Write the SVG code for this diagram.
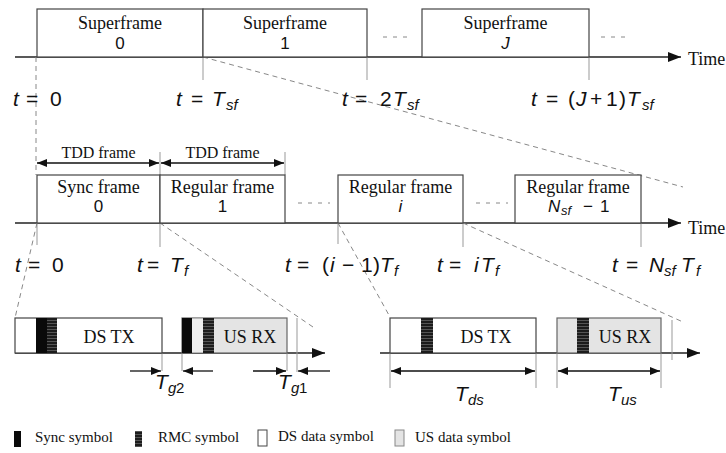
<svg xmlns="http://www.w3.org/2000/svg" width="726" height="453" viewBox="0 0 726 453">
<defs>
<style>
.bg{fill:#fff}
.box{fill:#fff;stroke:#444;stroke-width:1.2}
.us{fill:#e4e4e4;stroke:#666;stroke-width:1.2}
.sync{fill:#0a0a0a}
.rmc{fill:url(#rmcp)}
.ax{stroke:#222;stroke-width:1.3;fill:none}
.tick{stroke:#999;stroke-width:1;fill:none}
.dash{stroke:#888;stroke-width:1;stroke-dasharray:5,4;fill:none}
.dots{stroke:#888;stroke-width:1;stroke-dasharray:4,6;fill:none}
.arr{stroke:#111;stroke-width:1.3;fill:none}
.serif{font-family:"Liberation Serif","Times New Roman",serif;fill:#111}
.lbl{font-size:18px}
.tdd{font-size:16px}
.leg{font-size:15px}
.sans{font-family:"Liberation Sans",Arial,sans-serif;fill:#111}
.num{font-size:17px}
.m{font-size:21px}
.i{font-style:italic}
.sub{font-size:15px;font-style:italic}
</style>
<pattern id="rmcp" width="4" height="3" patternUnits="userSpaceOnUse">
<rect width="4" height="3" fill="#1c1c1c"/>
<rect y="2" width="4" height="1" fill="#555"/>
</pattern>
<marker id="ah" viewBox="0 0 10 8" refX="10" refY="4" markerWidth="10" markerHeight="8" markerUnits="userSpaceOnUse" orient="auto-start-reverse">
<path d="M0,0 L10,4 L0,8 z" fill="#111"/>
</marker>
<marker id="axh" viewBox="0 0 13 10" refX="13" refY="5" markerWidth="13" markerHeight="10" markerUnits="userSpaceOnUse" orient="auto">
<path d="M0,0 L13,5 L0,10 z" fill="#111"/>
</marker>
</defs>
<rect class="bg" width="726" height="453"/>

<g id="connectors">
<line class="ax" x1="15" y1="57" x2="681" y2="57" marker-end="url(#axh)"/>
<line class="ax" x1="15" y1="223" x2="681" y2="223" marker-end="url(#axh)"/>
<line class="ax" x1="15" y1="353" x2="325" y2="353" marker-end="url(#axh)"/>
<line class="ax" x1="380" y1="353" x2="700" y2="353" marker-end="url(#axh)"/>
<line class="tick" x1="203" y1="57" x2="203" y2="80"/>
<line class="tick" x1="367" y1="57" x2="367" y2="80"/>
<line class="tick" x1="589" y1="57" x2="589" y2="80"/>
<line class="dots" x1="383" y1="37" x2="413" y2="37"/>
<line class="dots" x1="601" y1="37" x2="631" y2="37"/>
<line class="dash" x1="36" y1="57" x2="36" y2="175"/>
<line class="dash" x1="203" y1="57" x2="683" y2="187"/>
<line class="tick" x1="160" y1="152" x2="160" y2="175"/>
<line class="tick" x1="285" y1="152" x2="285" y2="175"/>
<line class="arr" x1="37" y1="163" x2="159" y2="163" marker-start="url(#ah)" marker-end="url(#ah)"/>
<line class="arr" x1="161" y1="163" x2="284" y2="163" marker-start="url(#ah)" marker-end="url(#ah)"/>
<line class="tick" x1="37" y1="223" x2="37" y2="245"/>
<line class="tick" x1="160" y1="223" x2="160" y2="247"/>
<line class="tick" x1="338" y1="223" x2="338" y2="244"/>
<line class="tick" x1="463" y1="223" x2="463" y2="247"/>
<line class="tick" x1="641" y1="223" x2="641" y2="247"/>
<line class="dots" x1="298" y1="203" x2="330" y2="203"/>
<line class="dots" x1="476" y1="203" x2="508" y2="203"/>
<line class="dash" x1="37" y1="223" x2="15" y2="318"/>
<line class="dash" x1="160" y1="223" x2="313" y2="327"/>
<line class="dash" x1="338" y1="223" x2="390" y2="317"/>
<line class="dash" x1="463" y1="223" x2="683" y2="322"/>
<line class="tick" x1="162" y1="353" x2="162" y2="371"/>
<line class="tick" x1="182" y1="353" x2="182" y2="371"/>
<line class="tick" x1="287" y1="353" x2="287" y2="371"/>
<line class="tick" x1="297" y1="318" x2="297" y2="372"/>
<line class="arr" x1="130" y1="371" x2="161" y2="371" marker-end="url(#ah)"/>
<line class="arr" x1="213" y1="371" x2="183" y2="371" marker-end="url(#ah)"/>
<line class="arr" x1="253" y1="371" x2="286" y2="371" marker-end="url(#ah)"/>
<line class="arr" x1="330" y1="371" x2="298" y2="371" marker-end="url(#ah)"/>
<line class="tick" x1="390" y1="353" x2="390" y2="388"/>
<line class="tick" x1="536" y1="353" x2="536" y2="388"/>
<line class="tick" x1="557" y1="353" x2="557" y2="388"/>
<line class="tick" x1="661" y1="353" x2="661" y2="388"/>
<line class="tick" x1="672" y1="320" x2="672" y2="360"/>
<line class="arr" x1="391" y1="371" x2="535" y2="371" marker-start="url(#ah)" marker-end="url(#ah)"/>
<line class="arr" x1="558" y1="371" x2="660" y2="371" marker-start="url(#ah)" marker-end="url(#ah)"/>
</g>

<g id="superframe-0">
<rect class="box" x="37" y="9" width="166" height="48"/>
<text class="serif lbl" x="120" y="29" text-anchor="middle">Superframe</text>
<text class="sans num" x="120" y="49" text-anchor="middle">0</text>
</g>
<g id="superframe-1">
<rect class="box" x="203" y="9" width="164" height="48"/>
<text class="serif lbl" x="285" y="29" text-anchor="middle">Superframe</text>
<text class="sans num" x="285" y="49" text-anchor="middle">1</text>
</g>
<g id="superframe-J">
<rect class="box" x="422" y="9" width="167" height="48"/>
<text class="serif lbl" x="505.5" y="29" text-anchor="middle">Superframe</text>
<text class="sans num i" x="505.5" y="49" text-anchor="middle">J</text>
</g>
<g id="time-labels-row1">
<text class="serif lbl" x="688" y="65">Time</text>
<text class="sans m"><tspan class="i" x="13" y="106">t</tspan><tspan x="26">=</tspan><tspan x="50">0</tspan></text>
<text class="sans m"><tspan class="i" x="176" y="106">t</tspan><tspan x="191">=</tspan><tspan class="i" x="212">T</tspan><tspan class="sub" x="226" y="110">sf</tspan></text>
<text class="sans m"><tspan class="i" x="342" y="106">t</tspan><tspan x="355">=</tspan><tspan x="380">2</tspan><tspan class="i" x="393">T</tspan><tspan class="sub" x="407" y="110">sf</tspan></text>
<text class="sans m"><tspan class="i" x="531" y="106">t</tspan><tspan x="546">=</tspan><tspan x="568">(</tspan><tspan class="i" x="576">J</tspan><tspan x="590">+</tspan><tspan x="606">1</tspan><tspan x="619">)</tspan><tspan class="i" x="627">T</tspan><tspan class="sub" x="642" y="110">sf</tspan></text>
</g>

<g id="tdd-labels">
<text class="serif tdd" x="98.5" y="158" text-anchor="middle">TDD frame</text>
<text class="serif tdd" x="222.5" y="158" text-anchor="middle">TDD frame</text>
</g>
<g id="sync-frame-0">
<rect class="box" x="37" y="175" width="123" height="48"/>
<text class="serif lbl" x="98.5" y="193" text-anchor="middle">Sync frame</text>
<text class="sans num" x="98.5" y="212" text-anchor="middle">0</text>
</g>
<g id="regular-frame-1">
<rect class="box" x="160" y="175" width="125" height="48"/>
<text class="serif lbl" x="222.5" y="193" text-anchor="middle">Regular frame</text>
<text class="sans num" x="222.5" y="212" text-anchor="middle">1</text>
</g>
<g id="regular-frame-i">
<rect class="box" x="338" y="175" width="125" height="48"/>
<text class="serif lbl" x="400.5" y="193" text-anchor="middle">Regular frame</text>
<text class="sans num i" x="400.5" y="212" text-anchor="middle">i</text>
</g>
<g id="regular-frame-N">
<rect class="box" x="515" y="175" width="126" height="48"/>
<text class="serif lbl" x="578" y="193" text-anchor="middle">Regular frame</text>
<text class="sans num"><tspan class="i" x="548" y="212">N</tspan><tspan class="sub" x="561" y="215" style="font-size:13px">sf</tspan><tspan x="583" y="212">−</tspan><tspan x="600">1</tspan></text>
</g>
<g id="time-labels-row2">
<text class="serif lbl" x="688" y="234">Time</text>
<text class="sans m"><tspan class="i" x="15" y="272">t</tspan><tspan x="28">=</tspan><tspan x="52">0</tspan></text>
<text class="sans m"><tspan class="i" x="137" y="272">t</tspan><tspan x="147">=</tspan><tspan class="i" x="170">T</tspan><tspan class="sub" x="184" y="276">f</tspan></text>
<text class="sans m"><tspan class="i" x="285" y="272">t</tspan><tspan x="297">=</tspan><tspan x="322">(</tspan><tspan class="i" x="330">i</tspan><tspan x="342">−</tspan><tspan x="361">1</tspan><tspan x="373">)</tspan><tspan class="i" x="380">T</tspan><tspan class="sub" x="394" y="276">f</tspan></text>
<text class="sans m"><tspan class="i" x="437" y="272">t</tspan><tspan x="449">=</tspan><tspan class="i" x="474">i</tspan><tspan class="i" x="481">T</tspan><tspan class="sub" x="495" y="276">f</tspan></text>
<text class="sans m"><tspan class="i" x="612" y="272">t</tspan><tspan x="626">=</tspan><tspan class="i" x="649">N</tspan><tspan class="sub" x="664" y="276">sf</tspan><tspan class="i" x="681" y="272">T</tspan><tspan class="sub" x="696" y="276">f</tspan></text>
</g>

<g id="sync-frame-detail">
<rect class="box" x="15" y="318" width="147" height="35"/>
<rect class="sync" x="36" y="318" width="11" height="35"/>
<rect class="rmc" x="47" y="318" width="10" height="35"/>
<text class="serif lbl" x="109" y="343" text-anchor="middle">DS TX</text>
<rect class="us" x="182" y="318" width="105" height="35"/>
<rect x="192" y="318.6" width="11" height="33.8" fill="#eeeeee"/>
<rect class="sync" x="182" y="318" width="10" height="35"/>
<rect class="rmc" x="203" y="318" width="11" height="35"/>
<text class="serif lbl" x="250" y="343" text-anchor="middle">US RX</text>
<text class="sans m"><tspan class="i" x="155" y="389">T</tspan><tspan class="sub" x="168" y="393">g</tspan><tspan x="176" y="393" style="font-size:15px">2</tspan></text>
<text class="sans m"><tspan class="i" x="278" y="389">T</tspan><tspan class="sub" x="291" y="393">g</tspan><tspan x="299" y="393" style="font-size:15px">1</tspan></text>
</g>

<g id="regular-frame-detail">
<rect class="box" x="390" y="318" width="146" height="35"/>
<rect class="rmc" x="421" y="318" width="12" height="35"/>
<text class="serif lbl" x="486" y="343" text-anchor="middle">DS TX</text>
<rect class="us" x="557" y="318" width="104" height="35"/>
<rect class="rmc" x="577" y="318" width="12" height="35"/>
<text class="serif lbl" x="625" y="343" text-anchor="middle">US RX</text>
<text class="sans m"><tspan class="i" x="455" y="401">T</tspan><tspan class="sub" x="468" y="405">ds</tspan></text>
<text class="sans m"><tspan class="i" x="608" y="401">T</tspan><tspan class="sub" x="621" y="405">us</tspan></text>
</g>

<g id="legend">
<g id="legend-sync">
<rect class="sync" x="14" y="431" width="7" height="16"/>
<text class="serif leg" x="35" y="442">Sync symbol</text>
</g>
<g id="legend-rmc">
<rect class="rmc" x="135" y="431" width="7" height="16"/>
<text class="serif leg" x="158" y="442">RMC symbol</text>
</g>
<g id="legend-ds">
<rect x="258" y="430" width="9" height="16" fill="#fff" stroke="#444" stroke-width="1"/>
<text class="serif leg" x="278" y="441">DS data symbol</text>
</g>
<g id="legend-us">
<rect x="395" y="430" width="9" height="16" fill="#e4e4e4" stroke="#888" stroke-width="1"/>
<text class="serif leg" x="415" y="442">US data symbol</text>
</g>
</g>
</svg>
